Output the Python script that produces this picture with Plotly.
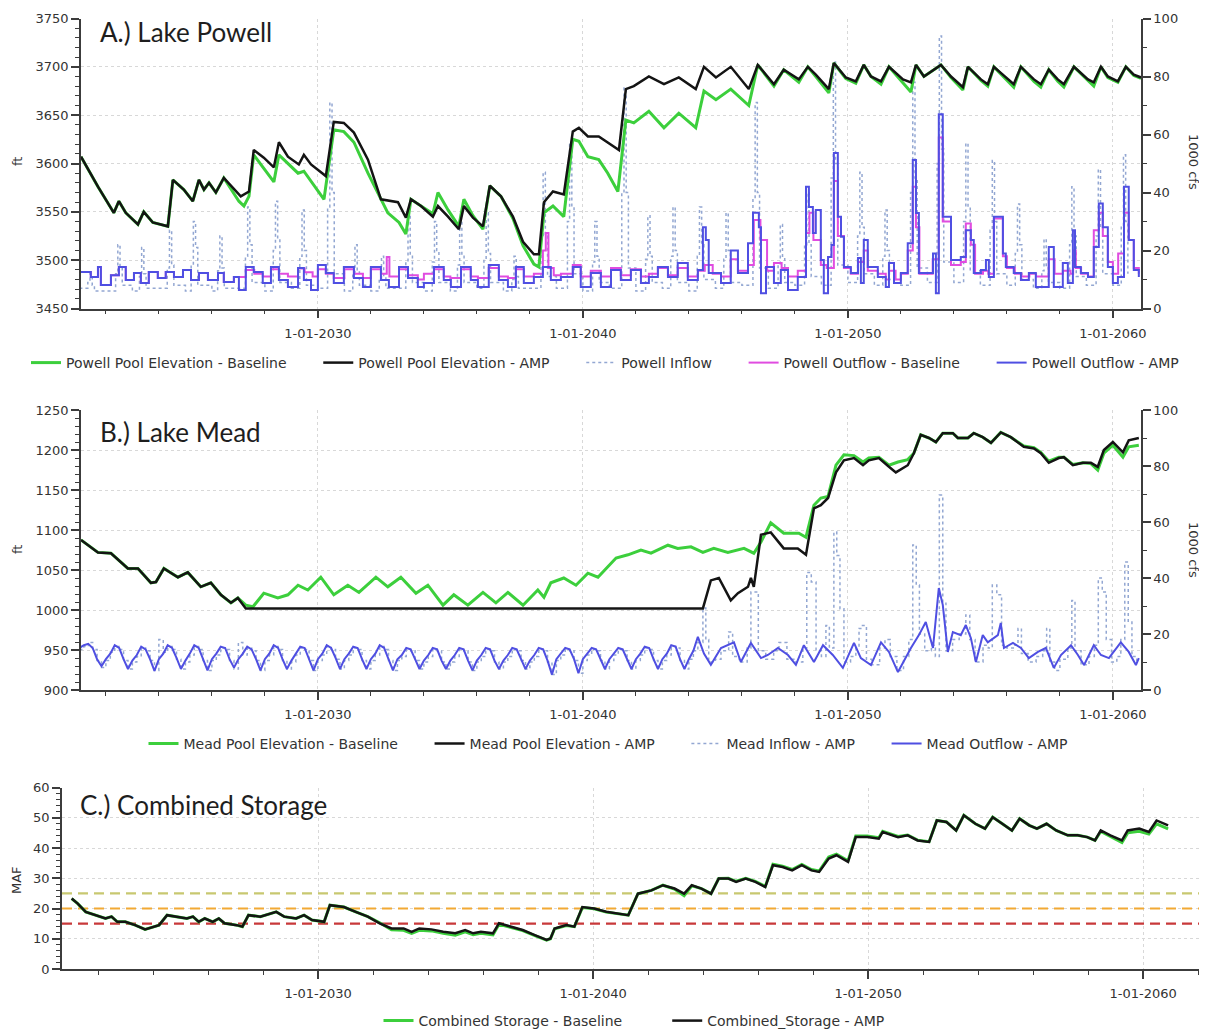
import plotly.graph_objects as go
from datetime import datetime, timedelta

W, H = 1207, 1032
PAGE_OFFSET = 8  # the page body margin that sits around the figure

# ---------------- axis labels ----------------
xtick_years = [2030, 2040, 2050, 2060]
xtick_labels = ["1-01-2030", "1-01-2040", "1-01-2050", "1-01-2060"]

# ---------------- Panel A: Lake Powell ----------------
powell_amp_t = [
    2021.06, 2021.70, 2022.30, 2022.49, 2022.75, 2023.21, 2023.43, 2023.77, 2024.34, 2024.53,
    2024.94, 2025.28, 2025.51, 2025.70, 2025.89, 2026.15, 2026.45, 2027.09, 2027.40, 2027.58,
    2027.96, 2028.34, 2028.53, 2028.87, 2029.28, 2029.47, 2029.74, 2030.30, 2030.60, 2030.98,
    2031.36, 2031.89, 2032.38, 2033.02, 2033.32, 2033.51, 2033.89, 2034.34, 2034.53, 2034.91,
    2035.32, 2035.51, 2035.85, 2036.23, 2036.49, 2036.91, 2037.36, 2037.74, 2038.15, 2038.34,
    2038.53, 2038.87, 2039.28, 2039.62, 2039.85, 2040.19, 2040.60, 2040.94, 2041.36, 2041.62,
    2041.92, 2042.49, 2043.06, 2043.62, 2044.26, 2044.57, 2045.02, 2045.58, 2046.26, 2046.60,
    2047.21, 2047.58, 2048.15, 2048.49, 2048.79, 2049.28, 2049.47, 2049.92, 2050.30, 2050.60,
    2050.87, 2051.25, 2051.55, 2052.08, 2052.38, 2052.57, 2052.87, 2053.51, 2053.89, 2054.34,
    2054.53, 2055.02, 2055.28, 2055.51, 2056.04, 2056.26, 2056.53, 2057.02, 2057.28, 2057.58,
    2057.92, 2058.15, 2058.53, 2059.06, 2059.28, 2059.55, 2059.81, 2060.19, 2060.49, 2060.79,
    2061.06]
powell_amp_ft = [
    3607, 3576, 3549, 3561, 3549, 3537, 3550, 3539, 3535, 3583,
    3573, 3561, 3583, 3573, 3580, 3570, 3585, 3566, 3571, 3614,
    3606, 3596, 3622, 3607, 3599, 3609, 3599, 3587, 3643, 3642,
    3632, 3604, 3563, 3560, 3544, 3563, 3556, 3545, 3556, 3545,
    3532, 3556, 3544, 3535, 3577, 3566, 3545, 3519, 3506, 3506,
    3560, 3571, 3568, 3633, 3637, 3628, 3628, 3622, 3614, 3677,
    3680, 3690, 3682, 3689, 3677, 3700, 3689, 3700, 3677, 3702,
    3682, 3697, 3687, 3700, 3692, 3677, 3704, 3689, 3685, 3702,
    3690, 3685, 3700, 3687, 3684, 3702, 3690, 3702, 3690, 3679,
    3700, 3687, 3682, 3700, 3687, 3682, 3700, 3687, 3682, 3697,
    3687, 3682, 3700, 3687, 3684, 3700, 3690, 3685, 3700, 3692,
    3689]

powell_base_t = [
    2021.06, 2021.70, 2022.30, 2022.49, 2022.75, 2023.21, 2023.43, 2023.77, 2024.34, 2024.53,
    2024.94, 2025.28, 2025.51, 2025.70, 2025.89, 2026.15, 2026.45, 2027.02, 2027.21, 2027.40,
    2027.58, 2028.34, 2028.53, 2029.25, 2029.47, 2030.23, 2030.60, 2030.98, 2031.36, 2031.89,
    2032.64, 2033.06, 2033.32, 2033.51, 2033.89, 2034.34, 2034.53, 2034.91, 2035.32, 2035.51,
    2035.85, 2036.23, 2036.49, 2036.91, 2037.36, 2037.74, 2038.15, 2038.34, 2038.53, 2038.87,
    2039.28, 2039.62, 2039.85, 2040.19, 2040.60, 2040.94, 2041.32, 2041.62, 2041.92, 2042.49,
    2043.06, 2043.62, 2044.26, 2044.57, 2045.02, 2045.58, 2046.26, 2046.60, 2047.21, 2047.58,
    2048.15, 2048.49, 2048.79, 2049.28, 2049.47, 2049.92, 2050.30, 2050.60, 2050.87, 2051.25,
    2051.55, 2052.08, 2052.38, 2052.57, 2052.87, 2053.51, 2053.89, 2054.34, 2054.53, 2055.02,
    2055.28, 2055.51, 2056.04, 2056.26, 2056.53, 2057.02, 2057.28, 2057.58, 2057.92, 2058.15,
    2058.53, 2059.06, 2059.28, 2059.55, 2059.81, 2060.19, 2060.49, 2060.79, 2061.06]
powell_base_ft = [
    3607, 3576, 3549, 3561, 3549, 3537, 3550, 3539, 3535, 3583,
    3573, 3561, 3583, 3573, 3580, 3570, 3585, 3561, 3556, 3566,
    3609, 3581, 3609, 3590, 3592, 3563, 3635, 3633, 3622, 3590,
    3549, 3539, 3527, 3563, 3556, 3548, 3570, 3552, 3535, 3563,
    3546, 3532, 3577, 3566, 3543, 3515, 3496, 3493, 3549, 3556,
    3545, 3625, 3623, 3607, 3604, 3590, 3571, 3645, 3642, 3654,
    3637, 3652, 3637, 3675, 3666, 3677, 3660, 3702, 3680, 3697,
    3684, 3700, 3690, 3673, 3704, 3688, 3683, 3702, 3690, 3682,
    3700, 3684, 3674, 3702, 3690, 3702, 3689, 3676, 3700, 3686,
    3680, 3700, 3685, 3679, 3700, 3685, 3679, 3697, 3685, 3679,
    3700, 3686, 3680, 3700, 3689, 3684, 3700, 3691, 3688]

powell_out_amp_t = [
    2021.06, 2021.43, 2021.70, 2021.81, 2022.19, 2022.49, 2022.75, 2023.06, 2023.32, 2023.62,
    2023.96, 2024.26, 2024.57, 2024.91, 2025.21, 2025.51, 2025.85, 2026.23, 2026.45, 2026.83,
    2027.02, 2027.28, 2027.58, 2027.92, 2028.23, 2028.53, 2028.87, 2029.25, 2029.47, 2029.74,
    2030.00, 2030.30, 2030.60, 2030.98, 2031.36, 2031.70, 2032.00, 2032.38, 2032.68, 2033.06,
    2033.40, 2033.77, 2034.00, 2034.38, 2034.75, 2035.02, 2035.40, 2035.77, 2036.04, 2036.45,
    2036.83, 2037.17, 2037.47, 2037.77, 2038.15, 2038.49, 2038.79, 2039.17, 2039.62, 2039.92,
    2040.30, 2040.68, 2041.06, 2041.43, 2041.81, 2042.19, 2042.49, 2042.83, 2043.21, 2043.58,
    2043.96, 2044.34, 2044.53, 2044.64, 2044.75, 2045.21, 2045.58, 2045.85, 2046.23, 2046.42,
    2046.64, 2046.72, 2046.91, 2047.21, 2047.47, 2047.74, 2048.11, 2048.42, 2048.53, 2048.68,
    2048.79, 2048.98, 2049.09, 2049.25, 2049.38, 2049.47, 2049.62, 2049.74, 2049.85, 2050.11,
    2050.38, 2050.49, 2050.60, 2050.75, 2051.13, 2051.43, 2051.55, 2051.74, 2052.00, 2052.26,
    2052.45, 2052.57, 2052.68, 2053.21, 2053.32, 2053.43, 2053.58, 2053.89, 2054.26, 2054.45,
    2054.64, 2054.75, 2055.02, 2055.21, 2055.32, 2055.51, 2055.85, 2055.96, 2056.26, 2056.53,
    2056.83, 2057.09, 2057.58, 2057.77, 2058.11, 2058.30, 2058.49, 2058.57, 2058.79, 2059.06,
    2059.28, 2059.47, 2059.62, 2059.81, 2060.00, 2060.19, 2060.42, 2060.60, 2060.79, 2060.98]
powell_out_amp_v = [
    12.6, 10.9, 14.3, 8.1, 11.5, 14.3, 9.8, 12.2, 8.8, 12.6,
    10.5, 12.6, 10.9, 13.3, 9.8, 12.2, 9.8, 12.2, 9.1, 10.9,
    6.4, 14.3, 12.6, 8.8, 14.3, 9.8, 7.4, 14.0, 9.8, 6.4,
    15.0, 12.2, 8.8, 14.3, 10.5, 7.4, 14.3, 9.8, 7.4, 14.3,
    10.5, 7.4, 8.8, 14.3, 9.8, 7.4, 14.3, 9.8, 7.4, 15.0,
    9.8, 7.4, 14.3, 8.8, 10.9, 14.3, 9.8, 10.9, 14.3, 7.4,
    12.2, 7.4, 13.3, 9.8, 13.3, 8.8, 10.9, 14.3, 10.9, 15.7,
    9.8, 13.3, 28.0, 23.6, 12.2, 8.8, 20.0, 12.2, 22.5, 33.0,
    28.0, 5.3, 14.3, 8.8, 13.3, 6.4, 10.9, 42.0, 35.0, 26.0,
    34.0, 16.7, 5.3, 17.8, 21.9, 53.6, 31.6, 24.7, 14.3, 12.2,
    17.4, 8.8, 23.6, 14.3, 10.9, 7.4, 15.7, 8.8, 12.2, 22.5,
    51.2, 32.9, 12.2, 19.0, 5.3, 67.0, 31.6, 16.7, 17.8, 27.0,
    23.6, 12.2, 13.3, 16.7, 10.9, 31.6, 19.0, 14.3, 12.2, 9.8,
    12.2, 7.4, 21.2, 7.4, 15.7, 8.8, 27.0, 14.3, 12.2, 10.9,
    21.2, 36.2, 28.0, 14.3, 8.8, 10.9, 42.0, 23.6, 13.3, 10.9]

powell_out_base_t = powell_out_amp_t[:20] + [
    2027.02, 2027.28, 2027.60, 2027.92, 2028.23, 2028.53, 2028.87, 2029.25, 2029.50, 2029.80,
    2030.00, 2030.30, 2030.60, 2031.00, 2031.36, 2031.70, 2032.00, 2032.38, 2032.60, 2032.70,
    2033.06, 2033.40, 2033.77, 2034.00, 2034.38, 2034.75, 2035.00, 2035.40, 2035.77, 2036.04,
    2036.45, 2036.83, 2037.17, 2037.47, 2037.77, 2038.15, 2038.49, 2038.60, 2038.70, 2038.90,
    2039.17, 2039.62, 2039.92, 2040.30, 2040.68, 2041.06, 2041.43, 2041.81, 2042.19, 2042.49,
    2042.83, 2043.21, 2043.58, 2043.96, 2044.34, 2044.60, 2044.90, 2045.21, 2045.58, 2045.85,
    2046.23, 2046.45, 2046.70, 2046.95, 2047.21, 2047.50, 2047.74, 2048.11, 2048.42, 2048.55,
    2048.70, 2048.98, 2049.20, 2049.47, 2049.62, 2049.85, 2050.11, 2050.38, 2050.60, 2050.75,
    2051.13, 2051.43, 2051.55, 2051.80, 2052.00, 2052.26, 2052.45, 2052.57, 2052.70, 2053.20,
    2053.43, 2053.58, 2053.89, 2054.26, 2054.45, 2054.64, 2054.80, 2055.10, 2055.30, 2055.51,
    2055.85, 2056.00, 2056.30, 2056.55, 2056.85, 2057.10, 2057.58, 2057.80, 2058.11, 2058.40,
    2058.50, 2058.60, 2058.80, 2059.06, 2059.28, 2059.47, 2059.62, 2059.81, 2060.00, 2060.20,
    2060.42, 2060.60, 2060.79, 2060.98]
powell_out_base_v = powell_out_amp_v[:20] + [
    10.9, 13.3, 12.0, 11.0, 13.5, 12.0, 11.0, 13.8, 12.5, 11.0,
    13.5, 12.0, 10.5, 13.5, 12.0, 10.5, 13.5, 12.0, 17.8, 11.0,
    13.5, 11.5, 10.0, 12.0, 13.5, 11.0, 10.5, 13.5, 11.0, 10.5,
    14.0, 11.0, 10.5, 13.5, 11.0, 12.0, 20.0, 26.0, 14.0, 11.5,
    12.0, 15.0, 11.0, 13.0, 11.0, 14.0, 11.5, 13.5, 11.0, 12.0,
    14.0, 11.5, 14.0, 11.0, 13.0, 15.0, 12.0, 11.0, 17.0, 13.0,
    15.0, 30.5, 23.6, 13.0, 15.7, 14.0, 11.0, 13.0, 26.0, 33.0,
    23.6, 15.0, 14.0, 44.0, 25.0, 14.0, 12.0, 16.0, 20.0, 13.0,
    12.0, 10.0, 13.0, 10.0, 12.0, 20.0, 42.0, 28.0, 12.0, 17.0,
    59.0, 30.0, 15.0, 16.0, 29.3, 22.0, 12.0, 13.0, 12.0, 31.0,
    18.0, 14.0, 12.0, 11.0, 12.0, 11.0, 17.0, 12.0, 13.0, 12.0,
    20.0, 14.0, 12.0, 11.0, 27.0, 33.0, 25.0, 16.0, 12.0, 19.0,
    33.0, 23.6, 14.0, 12.0]

# Powell inflow, read per year: spring peak and the months around it
powell_inflow_years = list(range(2021, 2061))
powell_inflow_peak_frac = [
    .40, .45, .35, .40, .30, .30, .35, .40, .40, .45,
    .40, .40, .40, .40, .35, .35, .40, .50, .50, .45,
    .55, .45, .40, .40, .40, .50, .45, .45, .45, .45,
    .40, .45, .45, .45, .45, .40, .40, .45, .45, .40]
powell_inflow_peak = [
    12, 22, 21, 27, 30, 25, 35, 37, 34, 71,
    22, 18, 32, 30, 30, 33, 18, 47, 57, 30,
    76, 32, 35, 35, 33, 71, 29, 40, 85, 47,
    34, 78, 94, 57, 51, 36, 24, 42, 48, 53]
powell_inflow_before = [
    9, 12, 11, 14, 15, 13, 18, 20, 18, 35,
    12, 10, 16, 16, 15, 17, 10, 24, 30, 16,
    40, 17, 18, 18, 17, 38, 15, 22, 45, 25,
    18, 40, 50, 30, 27, 19, 13, 22, 25, 28]
powell_inflow_after = [
    8, 14, 12, 15, 21, 14, 22, 24, 20, 40,
    13, 11, 18, 20, 18, 19, 11, 25, 35, 18,
    40, 18, 20, 22, 20, 40, 18, 22, 50, 28,
    20, 45, 55, 35, 30, 22, 14, 25, 28, 30]
powell_inflow_winter = [
    7, 6, 6, 7, 6, 6, 7, 6, 7, 7,
    6, 6, 7, 6, 6, 7, 6, 7, 7, 6,
    7, 6, 7, 6, 7, 8, 7, 8, 8, 9,
    8, 8, 9, 9, 8, 8, 7, 7, 8, 8]
powell_inflow_fall = [
    6, 8, 7, 8, 8, 7, 9, 9, 8, 12,
    8, 7, 9, 9, 9, 9, 7, 11, 12, 9,
    14, 9, 9, 10, 9, 14, 9, 11, 15, 12,
    10, 14, 16, 13, 12, 10, 9, 11, 12, 12]

# ---------------- Panel B: Lake Mead ----------------
mead_amp_t = [
    2021.06, 2021.70, 2022.19, 2022.57, 2022.83, 2023.21, 2023.70, 2023.89, 2024.19, 2024.72,
    2025.09, 2025.58, 2025.96, 2026.34, 2026.72, 2026.98, 2027.28, 2044.53, 2044.83, 2045.13,
    2045.58, 2045.85, 2046.23, 2046.34, 2046.45, 2046.72, 2047.09, 2047.58, 2048.11, 2048.42,
    2048.72, 2048.98, 2049.25, 2049.55, 2049.85, 2050.23, 2050.57, 2050.79, 2051.17, 2051.55,
    2051.81, 2052.26, 2052.49, 2052.75, 2053.06, 2053.32, 2053.58, 2053.96, 2054.15, 2054.53,
    2054.75, 2055.09, 2055.40, 2055.77, 2056.15, 2056.64, 2057.02, 2057.28, 2057.58, 2057.96,
    2058.15, 2058.49, 2058.87, 2059.17, 2059.43, 2059.66, 2060.00, 2060.38, 2060.60, 2060.98]
mead_amp_ft = [
    1087.5, 1072, 1071, 1060, 1052, 1052, 1034, 1035, 1052, 1041,
    1047, 1029, 1034, 1019, 1009, 1015, 1002, 1002, 1037, 1040,
    1012, 1021, 1029, 1040, 1029, 1094, 1097, 1077, 1077, 1069,
    1127, 1131, 1140, 1172, 1187, 1190, 1181, 1187, 1190, 1179,
    1172, 1181, 1196, 1219, 1215, 1210, 1221, 1221, 1215, 1215,
    1221, 1216, 1209, 1222, 1216, 1204, 1202, 1196, 1184, 1190,
    1191, 1181, 1184, 1184, 1179, 1200, 1210, 1197, 1212, 1215]

mead_base_t = [
    2021.06, 2021.70, 2022.19, 2022.57, 2022.83, 2023.21, 2023.70, 2023.89, 2024.19, 2024.72,
    2025.09, 2025.58, 2025.96, 2026.34, 2026.72, 2026.98, 2027.28, 2027.55, 2027.96, 2028.49,
    2028.87, 2029.25, 2029.62, 2030.11, 2030.60, 2031.13, 2031.55, 2032.19, 2032.64, 2033.13,
    2033.70, 2034.15, 2034.72, 2035.13, 2035.66, 2036.23, 2036.72, 2037.17, 2037.74, 2038.30,
    2038.53, 2038.79, 2039.28, 2039.74, 2040.19, 2040.57, 2041.25, 2041.70, 2042.19, 2042.57,
    2043.21, 2043.58, 2044.08, 2044.53, 2044.94, 2045.47, 2046.08, 2046.45, 2046.72, 2047.09,
    2047.58, 2048.15, 2048.42, 2048.72, 2048.98, 2049.25, 2049.55, 2049.85, 2050.23, 2050.57,
    2050.79, 2051.17, 2051.55, 2051.89, 2052.26, 2052.49, 2052.75, 2053.06, 2053.32, 2053.58,
    2053.96, 2054.15, 2054.53, 2054.75, 2055.09, 2055.40, 2055.77, 2056.15, 2056.64, 2057.02,
    2057.28, 2057.58, 2057.96, 2058.15, 2058.49, 2058.87, 2059.17, 2059.43, 2059.66, 2060.00,
    2060.38, 2060.60, 2060.98]
mead_base_ft = [
    1087.5, 1072, 1071, 1060, 1052, 1052, 1034, 1035, 1052, 1041,
    1047, 1029, 1034, 1019, 1009, 1015, 1006, 1004, 1021, 1015,
    1019, 1031, 1025, 1041, 1019, 1031, 1022, 1041, 1029, 1041,
    1021, 1031, 1006, 1019, 1006, 1022, 1009, 1022, 1006, 1025,
    1016, 1034, 1040, 1031, 1046, 1041, 1065, 1069, 1075, 1071,
    1081, 1077, 1079, 1072, 1077, 1072, 1077, 1071, 1085, 1109,
    1096, 1096, 1091, 1131, 1140, 1142, 1181, 1194, 1193, 1185,
    1190, 1191, 1181, 1185, 1188, 1196, 1219, 1215, 1210, 1221,
    1221, 1215, 1215, 1221, 1216, 1209, 1222, 1216, 1205, 1203,
    1197, 1186, 1191, 1191, 1182, 1184, 1183, 1175, 1196, 1206,
    1191, 1204, 1206]

# Mead flows 2021-2043, read at Jan, Mar, May, Jul, Sep, Nov of each year
mead_row_start_year = 2021
mead_row_months = [0.0, 2 / 12, 4 / 12, 6 / 12, 8 / 12, 10 / 12]
mead_outflow_rows = [
    [15.0, 16.0, 16.5, 15.0, 11.0, 8.5], [11.0, 13.0, 16.0, 15.0, 11.0, 7.5],
    [10.5, 12.5, 15.5, 14.5, 11.0, 6.8], [11.0, 13.0, 16.0, 15.0, 11.5, 7.5],
    [10.5, 13.0, 16.0, 15.0, 11.0, 7.0], [11.0, 13.0, 15.5, 15.0, 11.0, 8.0],
    [11.0, 13.0, 15.5, 14.5, 11.0, 7.0], [11.0, 13.0, 16.0, 15.0, 11.0, 7.5],
    [10.5, 13.0, 15.5, 15.0, 11.0, 7.0], [11.0, 13.0, 16.0, 15.0, 11.5, 7.5],
    [11.0, 13.0, 15.5, 15.0, 11.0, 7.5], [11.0, 13.0, 16.0, 15.0, 11.0, 7.0],
    [11.0, 12.5, 15.0, 14.5, 11.0, 7.5], [10.5, 12.5, 15.0, 14.5, 10.5, 7.5],
    [10.5, 12.5, 15.0, 14.5, 10.5, 7.0], [10.5, 12.5, 15.0, 14.5, 10.5, 7.5],
    [10.5, 12.5, 15.0, 14.5, 11.0, 7.5], [10.5, 12.5, 15.0, 14.5, 10.5, 5.5],
    [11.0, 13.0, 15.0, 14.5, 11.0, 6.0], [11.0, 13.0, 15.0, 14.5, 11.0, 7.5],
    [11.0, 13.0, 15.0, 14.5, 11.0, 7.5], [11.0, 13.0, 15.5, 15.0, 11.0, 7.5],
    [11.0, 13.0, 16.0, 15.5, 11.0, 7.5]]
mead_inflow_rows = [
    [14.5, 15.5, 17.0, 14.5, 10.5, 8.0], [10.5, 13.5, 15.5, 14.5, 10.5, 7.5],
    [10.0, 12.0, 15.0, 14.0, 10.5, 7.0], [18.0, 13.5, 15.5, 14.5, 11.0, 7.5],
    [10.0, 12.5, 15.5, 14.5, 10.5, 7.0], [10.5, 12.5, 15.0, 14.5, 10.5, 7.5],
    [17.0, 12.5, 15.0, 14.0, 10.5, 7.0], [10.5, 12.5, 15.5, 14.5, 10.5, 7.5],
    [10.0, 12.5, 15.0, 14.5, 10.5, 7.0], [10.5, 12.5, 15.5, 14.5, 11.0, 7.5],
    [10.5, 12.5, 15.0, 14.5, 10.5, 7.5], [10.5, 12.5, 15.5, 14.5, 10.5, 7.0],
    [10.5, 12.0, 14.5, 14.0, 10.5, 7.5], [10.0, 12.0, 14.5, 14.0, 10.0, 7.5],
    [10.0, 12.0, 14.5, 14.0, 10.0, 7.0], [10.0, 12.0, 14.5, 14.0, 10.0, 7.5],
    [10.0, 12.0, 14.5, 14.0, 10.5, 7.5], [10.0, 12.0, 14.5, 14.0, 10.0, 5.5],
    [10.5, 12.5, 14.5, 14.0, 10.5, 6.0], [10.5, 12.5, 14.5, 14.0, 10.5, 7.5],
    [10.5, 12.5, 14.5, 14.0, 10.5, 7.5], [10.5, 12.5, 15.0, 14.5, 10.5, 7.5],
    [10.5, 12.5, 15.5, 15.0, 10.5, 7.5]]

mead_out_late_t = [
    2044.00, 2044.17, 2044.34, 2044.57, 2044.83, 2045.21, 2045.70, 2045.96, 2046.34, 2046.72,
    2046.98, 2047.36, 2047.74, 2048.04, 2048.34, 2048.72, 2049.06, 2049.43, 2049.81, 2050.23,
    2050.49, 2050.87, 2051.25, 2051.55, 2051.89, 2052.38, 2052.68, 2052.94, 2053.21, 2053.43,
    2053.58, 2053.77, 2053.96, 2054.26, 2054.45, 2054.64, 2054.83, 2055.09, 2055.28, 2055.66,
    2055.77, 2055.89, 2056.23, 2056.53, 2056.83, 2057.17, 2057.47, 2057.77, 2058.04, 2058.42,
    2058.68, 2058.91, 2059.28, 2059.55, 2059.85, 2060.30, 2060.60, 2060.87, 2060.98]
mead_out_late_v = [
    11.0, 14.0, 19.0, 13.0, 9.0, 15.0, 17.0, 10.0, 16.8, 11.4,
    12.5, 15.0, 12.5, 9.0, 16.0, 10.0, 16.0, 12.5, 7.9, 16.8,
    11.4, 8.9, 17.0, 13.6, 6.4, 15.0, 19.6, 24.3, 15.0, 36.4,
    30.4, 13.6, 20.7, 19.6, 23.2, 18.6, 10.0, 19.6, 17.0, 19.6,
    23.9, 15.0, 16.8, 15.0, 11.4, 13.6, 15.0, 7.9, 12.5, 16.0,
    12.5, 8.9, 16.0, 12.5, 11.4, 17.0, 13.6, 8.9, 11.4]

mead_in_late_t = [
    2044.00, 2044.17, 2044.34, 2044.53, 2044.64, 2044.75, 2045.00, 2045.21, 2045.50, 2045.65,
    2045.90, 2046.20, 2046.34, 2046.62, 2046.90, 2047.20, 2047.40, 2047.70, 2048.00, 2048.30,
    2048.45, 2048.62, 2048.80, 2049.00, 2049.17, 2049.30, 2049.47, 2049.58, 2049.70, 2049.85,
    2050.10, 2050.30, 2050.42, 2050.55, 2050.70, 2050.90, 2051.20, 2051.40, 2051.60, 2051.85,
    2052.10, 2052.30, 2052.45, 2052.58, 2052.70, 2052.90, 2053.15, 2053.30, 2053.45, 2053.58,
    2053.70, 2053.95, 2054.20, 2054.45, 2054.60, 2054.80, 2055.10, 2055.30, 2055.45, 2055.62,
    2055.80, 2056.00, 2056.30, 2056.42, 2056.55, 2056.80, 2057.10, 2057.35, 2057.50, 2057.62,
    2057.80, 2058.00, 2058.30, 2058.45, 2058.57, 2058.80, 2059.10, 2059.30, 2059.45, 2059.60,
    2059.75, 2059.95, 2060.15, 2060.30, 2060.45, 2060.58, 2060.72, 2060.90]
mead_in_late_v = [
    11, 14, 17, 29.3, 18, 10, 11, 14, 20.7, 12,
    10, 15, 35, 14, 11, 14, 17, 11, 10, 15,
    42, 38.6, 14, 12, 23, 15, 56.4, 48, 29, 10,
    12, 15, 22, 23, 11, 9, 15, 18, 12, 7,
    12, 18, 51.8, 37.5, 20, 14, 16, 12, 69.6, 31,
    14, 18, 20, 26.8, 18, 10, 16, 15, 37.5, 34,
    16, 15, 16, 22, 13, 10, 12, 14, 22, 10,
    7, 11, 15, 32, 14, 9, 12, 16, 40, 35,
    18, 10, 12, 18, 45.7, 24.3, 12, 10]

# ---------------- Panel C: Combined storage ----------------
storage_t = [
    2021.04, 2021.26, 2021.55, 2021.91, 2022.27, 2022.49, 2022.70, 2022.99, 2023.35, 2023.71,
    2024.00, 2024.22, 2024.51, 2024.87, 2025.23, 2025.45, 2025.66, 2025.88, 2026.17, 2026.39,
    2026.60, 2027.04, 2027.25, 2027.47, 2027.90, 2028.48, 2028.77, 2029.20, 2029.49, 2029.78,
    2030.22, 2030.43, 2030.94, 2031.37, 2031.81, 2032.24, 2032.67, 2033.11, 2033.40, 2033.68,
    2034.12, 2034.55, 2034.99, 2035.35, 2035.64, 2035.92, 2036.36, 2036.58, 2037.01, 2037.44,
    2037.88, 2038.31, 2038.45, 2038.60, 2039.03, 2039.32, 2039.61, 2040.04, 2040.48, 2040.91,
    2041.28, 2041.63, 2042.12, 2042.54, 2042.96, 2043.31, 2043.59, 2043.94, 2044.29, 2044.57,
    2044.92, 2045.20, 2045.55, 2045.90, 2046.26, 2046.54, 2046.89, 2047.24, 2047.59, 2047.94,
    2048.22, 2048.57, 2048.85, 2049.27, 2049.55, 2049.97, 2050.39, 2050.53, 2051.09, 2051.44,
    2051.80, 2052.22, 2052.50, 2052.85, 2053.20, 2053.48, 2053.90, 2054.25, 2054.53, 2054.88,
    2055.23, 2055.51, 2055.86, 2056.14, 2056.49, 2056.84, 2057.26, 2057.62, 2057.97, 2058.25,
    2058.46, 2058.81, 2059.23, 2059.44, 2059.86, 2060.21, 2060.49, 2060.91]
storage_amp_maf = [
    23.3, 21.6, 18.9, 17.8, 16.7, 17.3, 15.6, 15.6, 14.5, 13.1,
    14.0, 14.5, 17.8, 17.3, 16.7, 17.3, 15.6, 16.7, 15.6, 16.7,
    15.1, 14.5, 14.0, 17.8, 17.3, 18.9, 17.3, 16.7, 17.8, 16.2,
    15.6, 21.1, 20.5, 18.9, 17.3, 15.1, 13.4, 13.4, 12.3, 13.4,
    13.1, 12.3, 11.8, 12.9, 11.8, 12.3, 11.8, 15.1, 14.0, 12.9,
    11.2, 9.6, 10.1, 13.4, 14.5, 14.0, 20.5, 20.0, 18.9, 18.4,
    17.8, 24.9, 26.0, 27.7, 26.6, 24.9, 27.7, 26.6, 24.9, 29.9,
    29.9, 28.8, 29.9, 28.8, 27.1, 34.3, 33.7, 32.6, 34.3, 32.6,
    32.1, 36.5, 37.6, 35.4, 43.6, 43.6, 43.1, 45.3, 43.6, 44.2,
    42.5, 42.0, 49.1, 48.6, 45.8, 50.8, 48.0, 46.4, 50.2, 48.0,
    45.8, 49.7, 47.5, 46.4, 48.0, 45.8, 44.2, 44.2, 43.6, 42.5,
    45.8, 44.2, 42.5, 45.8, 46.4, 45.3, 49.1, 47.5]
storage_base_maf = [
    23.3, 21.6, 18.9, 17.8, 16.7, 17.3, 15.6, 15.6, 14.5, 13.1,
    14.0, 14.5, 17.8, 17.3, 16.7, 17.3, 15.6, 16.7, 15.6, 16.7,
    15.1, 14.5, 14.0, 17.8, 17.3, 18.9, 17.3, 16.7, 17.8, 16.2,
    15.6, 21.1, 20.5, 18.9, 17.3, 15.3, 13.0, 12.8, 11.8, 12.8,
    12.6, 11.8, 11.2, 12.3, 11.3, 11.8, 11.3, 14.8, 13.8, 12.7,
    11.0, 9.5, 10.0, 13.3, 14.4, 14.0, 20.3, 19.9, 18.8, 18.3,
    17.8, 24.9, 26.0, 27.7, 26.4, 24.2, 27.5, 26.6, 24.9, 29.9,
    30.0, 29.0, 30.0, 29.0, 27.3, 34.6, 34.0, 32.9, 34.6, 32.9,
    32.4, 37.0, 38.0, 35.8, 44.0, 44.0, 43.4, 45.5, 43.8, 44.3,
    42.6, 42.1, 49.1, 48.6, 45.8, 50.8, 48.0, 46.4, 50.2, 48.0,
    45.8, 49.7, 47.5, 46.4, 48.0, 45.8, 44.2, 44.2, 43.6, 42.5,
    45.5, 43.8, 41.8, 45.0, 45.5, 44.6, 48.0, 46.3]
storage_thresholds = [25, 20, 15]
threshold_colors = ["#C8C870", "#F2A934", "#C8393A"]

# ---------------- helpers ----------------
def yr2dt(y):
    yi = int(y)
    return datetime(yi, 1, 1) + timedelta(days=(y - yi) * 365.25)


def dts(ts):
    return [yr2dt(t) for t in ts]


for a, b in [(powell_amp_t, powell_amp_ft), (powell_base_t, powell_base_ft),
             (powell_out_amp_t, powell_out_amp_v), (powell_out_base_t, powell_out_base_v),
             (mead_amp_t, mead_amp_ft), (mead_base_t, mead_base_ft),
             (mead_out_late_t, mead_out_late_v), (mead_in_late_t, mead_in_late_v),
             (storage_t, storage_amp_maf), (storage_t, storage_base_maf)]:
    assert len(a) == len(b), (len(a), len(b))

# Powell inflow table
pin_t, pin_v = [], []
for i, y in enumerate(powell_inflow_years):
    p = y + powell_inflow_peak_frac[i]
    pin_t += [y, p - 1 / 12, p, p + 1 / 12, p + 2 / 12]
    pin_v += [powell_inflow_winter[i], powell_inflow_before[i], powell_inflow_peak[i],
              powell_inflow_after[i], powell_inflow_fall[i]]


def rows_to_series(rows):
    t, v = [], []
    for i, row in enumerate(rows):
        for m, val in zip(mead_row_months, row):
            t.append(mead_row_start_year + i + m)
            v.append(val)
    return t, v


mo_t, mo_v = rows_to_series(mead_outflow_rows)
mo_t += mead_out_late_t
mo_v += mead_out_late_v
mi_t, mi_v = rows_to_series(mead_inflow_rows)
mi_t += mead_in_late_t
mi_v += mead_in_late_v

# ---------------- styling ----------------
GREEN = "#3CCF3C"
BLACK = "#141414"
INFLOW = "#93A7D2"
MAGENTA = "#E04CE0"
BLUE = "#4F4FE2"
AXC = "#3C3C3C"
GRID = "#D8D8D8"
TXT = "#333333"
FONT = "DejaVu Sans"
GAPA = "\u00a0" * 6   # extra room after a legend entry, as in the reference legends
GAPB = "\u00a0" * 6
GAPC = "\u00a0" * 9

fig = go.Figure()


def line(t, v, name, color, xa, ya, legend, rank, width=2.0, dash="solid", shape="linear",
         showlegend=True):
    fig.add_trace(go.Scatter(
        x=dts(t), y=v, name=name, mode="lines", xaxis=xa, yaxis=ya,
        line=dict(color=color, width=width, dash=dash, shape=shape),
        legend=legend, legendrank=rank, hoverinfo="skip", showlegend=showlegend))


# Panel A (flows on base axis y, elevations on overlay y2 so they draw on top)
line(pin_t, pin_v, "Powell Inflow" + GAPA, INFLOW, "x", "y", "legend", 3, 1.5, "dot", "hv")
line(powell_out_base_t, powell_out_base_v, "Powell Outflow - Baseline" + GAPA, MAGENTA, "x", "y", "legend", 4, 2.0, shape="hv")
line(powell_out_amp_t, powell_out_amp_v, "Powell Outflow - AMP", BLUE, "x", "y", "legend", 5, 2.0, shape="hv")
line(powell_base_t, powell_base_ft, "Powell Pool Elevation - Baseline" + GAPA, GREEN, "x", "y2", "legend", 1, 3.0)
line(powell_amp_t, powell_amp_ft, "Powell Pool Elevation - AMP" + GAPA, BLACK, "x", "y2", "legend", 2, 2.5)

# Panel B
line(mi_t, mi_v, "Mead Inflow - AMP" + GAPB, INFLOW, "x2", "y3", "legend2", 3, 1.5, "dot", "hv")
line(mo_t, mo_v, "Mead Outflow - AMP", BLUE, "x2", "y3", "legend2", 4, 2.0)
line(mead_base_t, mead_base_ft, "Mead Pool Elevation - Baseline" + GAPB, GREEN, "x2", "y4", "legend2", 1, 3.0)
line(mead_amp_t, mead_amp_ft, "Mead Pool Elevation - AMP" + GAPB, BLACK, "x2", "y4", "legend2", 2, 2.5)

# Panel C: storage thresholds, then storage
C_RANGE = (2020.69, 2062.25)
for val, col in zip(storage_thresholds, threshold_colors):
    line([C_RANGE[0], C_RANGE[1]], [val, val], "", col, "x3", "y5", "legend3", 9, 2.2,
         "10px,6px", showlegend=False)
line(storage_t, storage_base_maf, "Combined Storage - Baseline" + GAPC, GREEN, "x3", "y5", "legend3", 1, 3.0)
line(storage_t, storage_amp_maf, "Combined_Storage - AMP", BLACK, "x3", "y5", "legend3", 2, 2.5)

# ---------------- layout geometry (reference pixel positions) ----------------
def px_x(p):
    return (p - PAGE_OFFSET) / W


def px_y(p):
    return 1 - (p - PAGE_OFFSET) / H


xAB = [px_x(81), px_x(1141)]
yA = [px_y(308.5), px_y(18.5)]
yB = [px_y(690), px_y(410)]
xC = [px_x(62), px_x(1205)]
yC = [px_y(969), px_y(787.5)]

tickfont = dict(family=FONT, size=13, color=TXT)
common_tick = dict(ticks="outside", ticklen=8, tickwidth=1.5, tickcolor=AXC,
                   showline=True, linecolor=AXC, linewidth=1.5, zeroline=False,
                   tickfont=tickfont, automargin=False)


def xax(domain, anchor, r0, r1):
    d = dict(domain=domain, anchor=anchor, type="date", range=[yr2dt(r0), yr2dt(r1)],
             tickmode="array", tickvals=[datetime(y, 1, 1) for y in xtick_years],
             ticktext=xtick_labels, showgrid=True, gridcolor=GRID, griddash="dot", gridwidth=1,
             ticklabelstandoff=4,
             minor=dict(tick0="2020-01-01", dtick="M24", ticks="outside", ticklen=4,
                        tickwidth=1.2, tickcolor=AXC, showgrid=False))
    d.update(common_tick)
    return d


def yax(rng, dtick, minor, side, grid, **kw):
    d = dict(range=rng, tick0=rng[0], dtick=dtick, side=side, showgrid=grid,
             gridcolor=GRID, griddash="dot", gridwidth=1,
             minor=dict(dtick=minor, tick0=rng[0], ticks="outside", ticklen=4, tickwidth=1.2,
                        tickcolor=AXC, showgrid=False))
    d.update(common_tick)
    d.update(kw)
    return d


legend_font = dict(family=FONT, size=14, color=TXT)


def leg(xc, yc):
    return dict(orientation="h", x=xc, xanchor="center", y=yc, yanchor="middle",
                font=legend_font, bgcolor="rgba(0,0,0,0)", itemwidth=30)


fig.update_layout(
    template="none",
    width=W, height=H, autosize=False,
    margin=dict(l=0, r=0, t=0, b=0, pad=0, autoexpand=False),
    paper_bgcolor="white", plot_bgcolor="white",
    font=dict(family=FONT, size=12, color=TXT),
    xaxis=xax(xAB, "y", 2021.06, 2061.06),
    yaxis=yax([0, 100], 20, 10, "right", False, domain=yA, anchor="x"),
    yaxis2=yax([3450, 3750], 50, 10, "left", True, overlaying="y", anchor="x"),
    xaxis2=xax(xAB, "y3", 2021.06, 2061.06),
    yaxis3=yax([0, 100], 20, 10, "right", False, domain=yB, anchor="x2"),
    yaxis4=yax([900, 1250], 50, 10, "left", True, overlaying="y3", anchor="x2"),
    xaxis3=xax(xC, "y5", C_RANGE[0], C_RANGE[1]),
    yaxis5=yax([0, 60], 10, 2, "left", True, domain=yC, anchor="x3"),
    legend=leg(px_x(605), px_y(363)),
    legend2=leg(px_x(608), px_y(744)),
    legend3=leg(px_x(634), px_y(1021)),
    showlegend=True,
)

title_font = dict(family="Lato", size=26, color="#1E1E1E")
ann = [
    dict(text="A.) Lake Powell", x=px_x(98), y=px_y(32)),
    dict(text="B.) Lake Mead", x=px_x(98), y=px_y(432)),
    dict(text="C.) Combined Storage", x=px_x(78), y=px_y(805)),
]
for a in ann:
    fig.add_annotation(xref="paper", yref="paper", xanchor="left", yanchor="middle",
                       showarrow=False, font=title_font, **a)

axis_titles = [
    ("ft", 17, 162, -90), ("ft", 17, 550, -90), ("MAF", 16, 880, -90),
    ("1000 cfs", 1194, 162, 90), ("1000 cfs", 1194, 550, 90),
]
for txt, xp, yp, ang in axis_titles:
    fig.add_annotation(text=txt, xref="paper", yref="paper", x=px_x(xp), y=px_y(yp),
                       xanchor="center", yanchor="middle", showarrow=False, textangle=ang,
                       font=dict(family=FONT, size=13, color=TXT))

fig.write_html("out.html")
